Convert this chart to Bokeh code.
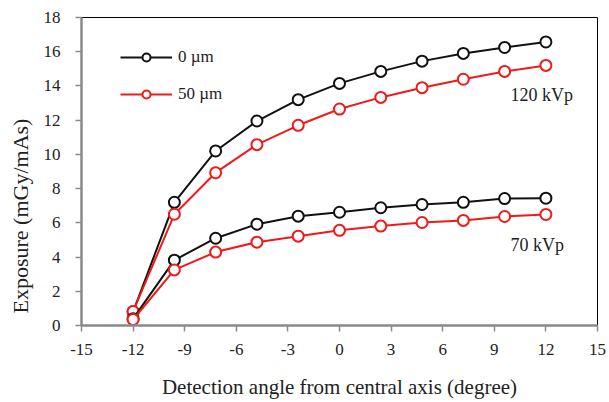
from bokeh.plotting import figure
from bokeh.models import Range1d, FixedTicker, Legend, LegendItem, Label, Title
from bokeh.embed import file_html
from bokeh.resources import INLINE

angles = [-12, -9.6, -7.2, -4.8, -2.4, 0, 2.4, 4.8, 7.2, 9.6, 12]
kv120_0um = [0.8, 7.2, 10.2, 11.95, 13.2, 14.15, 14.85, 15.45, 15.9, 16.25, 16.57]
kv120_50um = [0.82, 6.5, 8.93, 10.57, 11.7, 12.65, 13.33, 13.9, 14.39, 14.85, 15.2]
kv70_0um = [0.4, 3.82, 5.1, 5.92, 6.39, 6.62, 6.88, 7.07, 7.2, 7.42, 7.44]
kv70_50um = [0.35, 3.25, 4.29, 4.87, 5.22, 5.56, 5.81, 6.02, 6.14, 6.37, 6.49]
x_ticks = [-15, -12, -9, -6, -3, 0, 3, 6, 9, 12, 15]
y_ticks = [0, 2, 4, 6, 8, 10, 12, 14, 16, 18]

FONT = "Liberation Serif"
BLACK = "#111111"
RED = "#f01a1a"
AXIS_GRAY = "#8a8a8a"
TXT = "#222222"

p = figure(width=609, height=402, output_backend="svg", toolbar_location=None,
           x_range=Range1d(-15, 15), y_range=Range1d(0, 18),
           min_border_left=81, min_border_right=12, min_border_top=17, min_border_bottom=77)
p.background_fill_color = "white"
p.border_fill_color = "white"
p.outline_line_color = "black"
p.outline_line_width = 1
p.xgrid.visible = False
p.ygrid.visible = False

p.axis.axis_line_color = AXIS_GRAY
p.axis.axis_line_width = 2.5
p.axis.major_tick_line_color = AXIS_GRAY
p.axis.major_tick_line_width = 1.5
p.axis.major_tick_in = 0
p.axis.major_tick_out = 6
p.axis.minor_tick_line_color = None
p.axis.major_label_text_font = FONT
p.axis.major_label_text_font_size = "17px"
p.axis.major_label_text_color = TXT

p.xaxis.ticker = FixedTicker(ticks=x_ticks)
p.yaxis.ticker = FixedTicker(ticks=y_ticks)
p.xaxis.major_label_overrides = {t: str(t) for t in x_ticks}
p.yaxis.major_label_overrides = {t: str(t) for t in y_ticks}
p.xaxis.major_label_standoff = 12
p.yaxis.major_label_standoff = 15
p.xaxis.axis_label = "Detection angle from central axis (degree)"
p.xaxis.axis_label_text_font = FONT
p.xaxis.axis_label_text_font_size = "21px"
p.xaxis.axis_label_text_font_style = "normal"
p.xaxis.axis_label_text_color = TXT
p.xaxis.axis_label_standoff = 17

ytitle = Title(text="Exposure (mGy/mAs)", align="left", offset=12,
               vertical_align="top",
               text_font=FONT, text_font_size="22px", text_font_style="normal",
               text_color=TXT, standoff=12)
p.add_layout(ytitle, "left")

def series(ys, color):
    ln = p.line(angles, ys, line_color=color, line_width=2)
    sc = p.scatter(angles, ys, marker="circle", size=11, line_color=color,
                   line_width=2, fill_color="white")
    return ln, sc

l1, s1 = series(kv120_0um, BLACK)
l2, s2 = series(kv120_50um, RED)
l3, s3 = series(kv70_0um, BLACK)
l4, s4 = series(kv70_50um, RED)

legend = Legend(items=[LegendItem(label="0 \u00b5m", renderers=[l1, s1]),
                       LegendItem(label="50 \u00b5m", renderers=[l2, s2])],
                location=(39, 221))
legend.glyph_width = 52
legend.glyph_height = 20
legend.label_height = 20
legend.label_standoff = 6
legend.spacing = 17
legend.padding = 0
legend.margin = 0
legend.border_line_color = None
legend.background_fill_alpha = 0
legend.label_text_font = FONT
legend.label_text_font_size = "17px"
legend.label_text_color = TXT
p.add_layout(legend, "center")

p.add_layout(Label(x=9.94, y=13.45, text="120 kVp", text_font=FONT,
                   text_font_size="18px", text_color=TXT, text_baseline="middle"))
p.add_layout(Label(x=9.94, y=4.68, text="70 kVp", text_font=FONT,
                   text_font_size="18px", text_color=TXT, text_baseline="middle"))

open("out.html", "w").write(file_html(p, INLINE))
